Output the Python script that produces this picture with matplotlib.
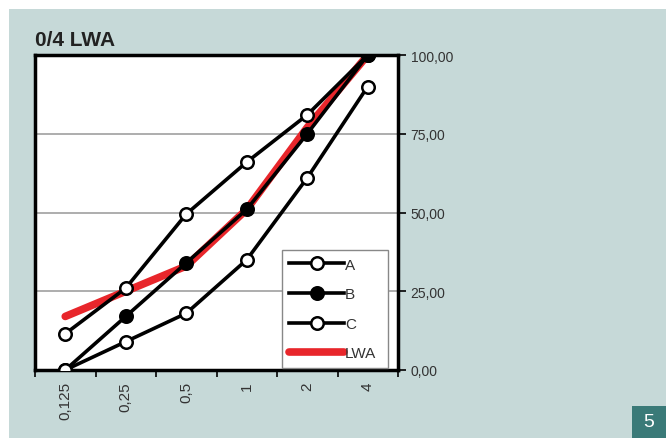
import numpy as np
import matplotlib.pyplot as plt
from matplotlib.patches import Rectangle

# data
sizes = ['0,125', '0,25', '0,5', '1', '2', '4']
curve_a = [11.5, 26, 49.5, 66, 81, 100]
curve_b = [0, 17, 34, 51, 75, 100]
curve_c = [0, 9, 18, 35, 61, 90]
curve_lwa = [17, 25, 33, 51, 77, 100]
yticks = [0, 25, 50, 75, 100]
ytick_labels = ['0,00', '25,00', '50,00', '75,00', '100,00']

plt.rcParams['font.family'] = ['Liberation Sans', 'DejaVu Sans']

bg = '#c6d9d8'
fig = plt.figure(figsize=(6.66, 4.39), dpi=100)
fig.patch.set_facecolor('white')
# panel background, white strip at top and left
fig.patches.append(Rectangle((9/666, -0.01), 1, (439-10)/439 + 0.01, transform=fig.transFigure,
                             facecolor=bg, edgecolor='none', zorder=-2))
# the numbered box bottom right
fig.patches.append(Rectangle((632/666, -0.01), 34/666, 32/439 + 0.01, transform=fig.transFigure,
                             facecolor='#3a7a78', edgecolor='none', zorder=-1))
fig.text(649/666, 16/439, '5', color='white', fontsize=14, ha='center', va='center')

ax = fig.add_axes([35/666, 68/439, 363/666, 315/439])
ax.set_facecolor('white')
x = np.arange(len(sizes))

ax.plot(x, curve_lwa, color='#e8262b', lw=5.5, solid_capstyle='round',
        solid_joinstyle='round', zorder=2, label='LWA')
mk = dict(color='black', lw=2.6, marker='o', markersize=9, markeredgewidth=1.8,
          markeredgecolor='black', zorder=3)
la, = ax.plot(x, curve_a, markerfacecolor='white', label='A', **mk)
lb, = ax.plot(x, curve_b, markerfacecolor='black', label='B', **mk)
lc, = ax.plot(x, curve_c, markerfacecolor='white', label='C', **mk)
lr = ax.lines[0]

ax.set_xlim(-0.5, 5.5)
ax.set_ylim(0, 100)
for v in [25, 50, 75]:
    ax.axhline(v, color='#a0a0a0', lw=1.2, zorder=1)

ax.yaxis.tick_right()
ax.set_yticks(yticks)
ax.set_yticklabels(ytick_labels)
ax.tick_params(axis='y', direction='out', length=6, width=1.2, pad=3,
               labelsize=10, labelcolor='#333333')

ax.set_xticks(x)
ax.set_xticklabels(sizes, rotation=90, va='top')
ax.set_xticks(np.arange(-0.5, 6, 1), minor=True)
ax.tick_params(axis='x', which='major', length=0, pad=8, labelsize=11,
               labelcolor='#333333')
ax.tick_params(axis='x', which='minor', direction='out', length=5, width=1.2)

for s in ax.spines.values():
    s.set_linewidth(2.5)
    s.set_color('black')

leg = ax.legend(handles=[la, lb, lc, lr], loc='lower left',
                bbox_to_anchor=(0.68, 0.006, 0.292, 0.38), mode='expand',
                fontsize=11, handlelength=3.6, handletextpad=0.05,
                labelspacing=1.02, borderpad=0.5,
                fancybox=False, framealpha=1, edgecolor='#888888',
                borderaxespad=0)
leg.get_frame().set_linewidth(1)
for t in leg.get_texts():
    t.set_color('#333333')

fig.text(35/666, 1 - 40/439, '0/4 LWA', fontsize=15, fontweight='bold',
         ha='left', va='center', color='#222222')

fig.savefig('out.png', dpi=100, facecolor=fig.get_facecolor())
